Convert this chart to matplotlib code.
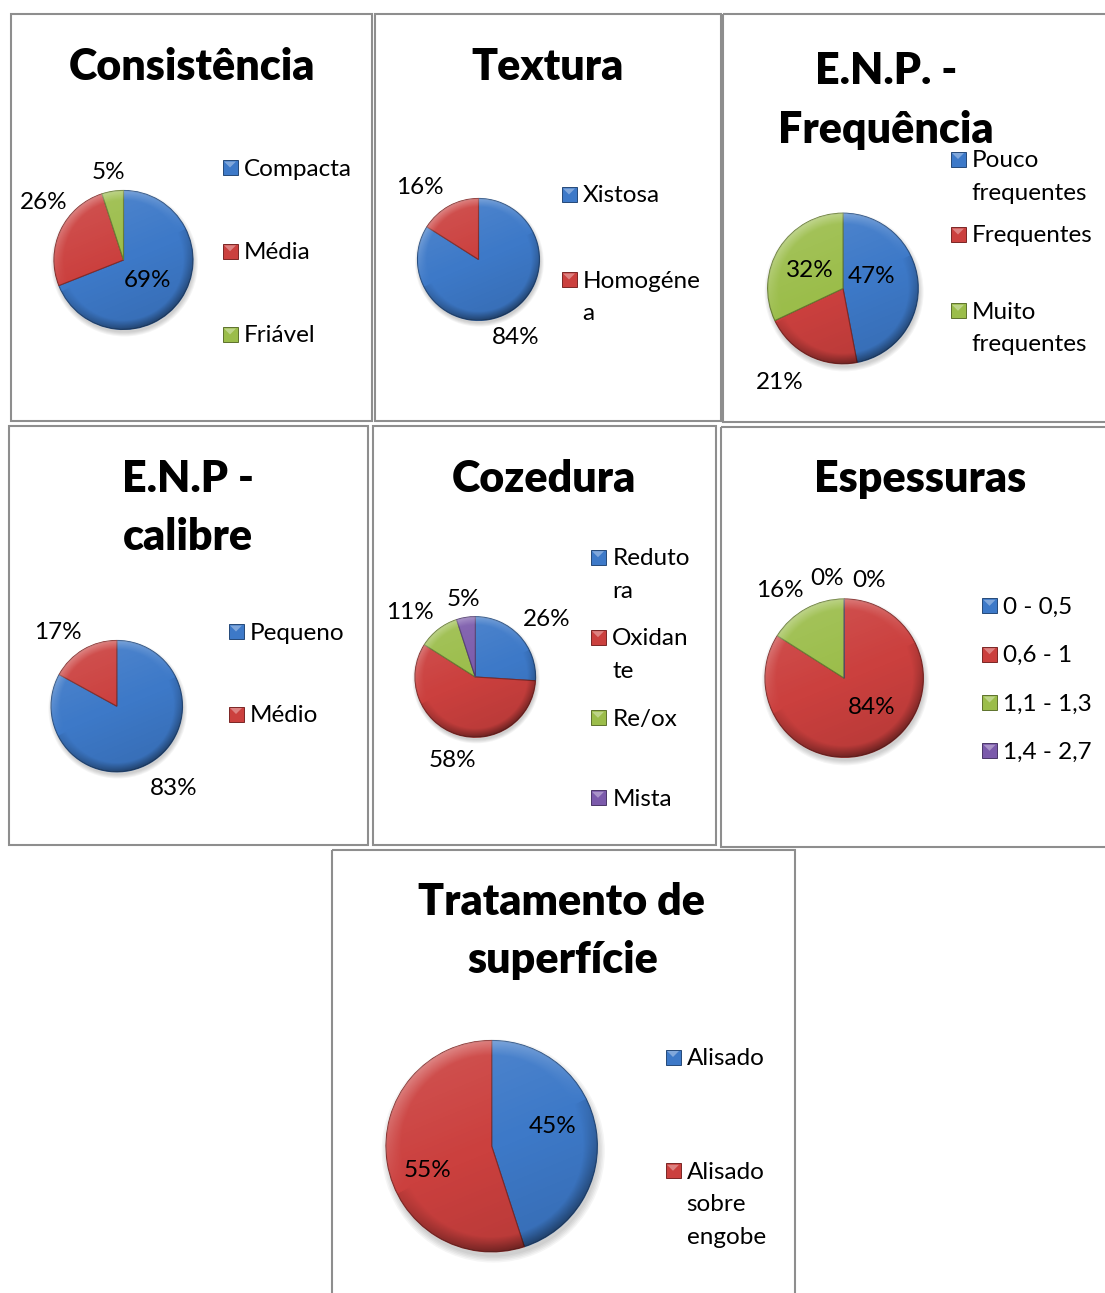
import numpy as np
import matplotlib
matplotlib.use("Agg")
import matplotlib.pyplot as plt
from matplotlib.patches import Rectangle, Circle
from matplotlib.colors import to_rgb

W, H = 1105, 1293

# ---------------- data ----------------
consist_labels = ["Compacta", "Média", "Friável"]
consist_values = [69, 26, 5]

textura_labels = ["Xistosa", "Homogénea"]
textura_values = [84, 16]

freq_labels = ["Pouco frequentes", "Frequentes", "Muito frequentes"]
freq_values = [47, 21, 32]

calibre_labels = ["Pequeno", "Médio"]
calibre_values = [83, 17]

cozedura_labels = ["Redutora", "Oxidante", "Re/ox", "Mista"]
cozedura_values = [26, 58, 11, 5]

espess_labels = ["0 - 0,5", "0,6 - 1", "1,1 - 1,3", "1,4 - 2,7"]
espess_values = [0, 84, 16, 0]

trat_labels = ["Alisado", "Alisado sobre engobe"]
trat_values = [45, 55]

# ---------------- style / layout ----------------
COLORS = ["#3D79C8", "#CB403E", "#9BBD4A", "#7B5AAB"]
FONT = "Lato"
FS = 17.5        # legend / percent labels (pt)
TFS = 31         # titles (pt)
TW = "heavy"
LINE_H = 32.5    # legend line spacing (px)

# how the legend wraps long names (as in the picture)
WRAP = {"Homogénea": "Homogéne\na", "Redutora": "Reduto\nra", "Oxidante": "Oxidan\nte",
        "Pouco frequentes": "Pouco\nfrequentes", "Muito frequentes": "Muito\nfrequentes",
        "Alisado sobre engobe": "Alisado\nsobre\nengobe"}

charts = [
    dict(labels=consist_labels, values=consist_values,
         box=(11, 14, 371.5, 421), titles=[("Consistência", 191.7, 80)],
         pie=(123.5, 260, 69.5), pct=[(0.44, -3.4), (1.43, -11.4), (1.31, 0.5)],
         leg=(222.5, 243.5, [167.5, 251.3, 334.5])),
    dict(labels=textura_labels, values=textura_values,
         box=(374.5, 14, 720.5, 421), titles=[("Textura", 547.5, 80)],
         pie=(478.5, 259.5, 61), pct=[(1.385, -2.8), (1.55, 9.3)],
         leg=(561.5, 582.5, [194.5, 279.5])),
    dict(labels=freq_labels, values=freq_values,
         box=(722.5, 14, 1112, 421.5), titles=[("E.N.P. -", 886.3, 83.5), ("Frequência", 886, 143.5)],
         pie=(843, 288.5, 75.3), pct=[(0.43, 21.2), (1.475, -7.5), (0.51, 1.4)],
         leg=(950.5, 971.7, [159, 234.5, 310.8])),
    dict(labels=calibre_labels, values=calibre_values,
         box=(8.5, 425.5, 367.7, 845), titles=[("E.N.P -", 188.3, 491.7), ("calibre", 187.5, 550)],
         pie=(116.8, 706.2, 65.7), pct=[(1.49, 5.0), (1.46, 7.1)],
         leg=(228.5, 249.3, [631.5, 714])),
    dict(labels=cozedura_labels, values=cozedura_values,
         box=(372.7, 426, 715.5, 845), titles=[("Cozedura", 544.2, 491.7)],
         pie=(475.3, 677, 60.3), pct=[(1.54, -3.1), (1.40, 2.1), (1.55, 6.5), (1.33, -0.2)],
         leg=(590.5, 612.3, [557.2, 637.2, 717.8, 797.8])),
    dict(labels=espess_labels, values=espess_values,
         box=(720.7, 426.7, 1112, 846.7), titles=[("Espessuras", 919.7, 491.7)],
         pie=(844.2, 678.2, 79.2), pct=[(1.30, -14.0), (0.49, 17.2), (1.40, 6.6), (1.30, 9.5)],
         leg=(982, 1002.7, [605.8, 654.2, 702.5, 750.8])),
    dict(labels=trat_labels, values=trat_values,
         box=(331.7, 850, 795, 1300), titles=[("Tratamento de", 562, 915), ("superfície", 562.5, 973.3)],
         pie=(491.7, 1146.2, 105.7), pct=[(0.61, 11.3), (0.64, 10.1)],
         leg=(665.5, 686.7, [1057, 1170.8])),
]


def darker(c, f=0.7):
    r, g, b = to_rgb(c)
    return (r * f, g * f, b * f)


def shading_image(n=240):
    yy, xx = np.mgrid[1:-1:n * 1j, -1:1:n * 1j]
    rr = np.sqrt(xx ** 2 + yy ** 2) + 1e-9
    t = (0.85 * yy - 0.35 * xx)
    d = (-0.45 * xx + 0.89 * yy) / rr
    bevel = np.clip((rr - 0.86) / 0.14, 0, 1)
    L = 0.10 * t + bevel * 0.28 * d - 0.10 * bevel * (d < 0)
    img = np.zeros((n, n, 4))
    img[..., :3] = np.where(L[..., None] > 0, 1.0, 0.0)
    img[..., 3] = np.clip(np.abs(L), 0, 0.5)
    return img


SHADE = shading_image()

fig = plt.figure(figsize=(W / 100, H / 100), dpi=100)
fig.patch.set_facecolor("white")
ov = fig.add_axes([0, 0, 1, 1])
ov.set_xlim(0, W)
ov.set_ylim(H, 0)
ov.axis("off")

cap_px = FS * 100 / 72 * 0.7165

for ch in charts:
    x0, y0, x1, y1 = ch["box"]
    ov.add_patch(Rectangle((x0, y0), x1 - x0, y1 - y0, fill=False,
                           edgecolor="#8e8e8e", lw=1.5, zorder=1))
    for txt, tx, ty in ch["titles"]:
        ov.text(tx, ty, txt, ha="center", va="baseline", fontsize=TFS,
                fontweight=TW, family=FONT, color="black")

    # legend
    mx, tx, ys = ch["leg"]
    n = len(ch["values"])
    for i, (lab, yc) in enumerate(zip(ch["labels"], ys)):
        c = COLORS[i]
        ov.add_patch(Rectangle((mx, yc - 7.5), 15, 15, facecolor=c,
                               edgecolor=darker(c, 0.6), lw=0.7, zorder=2))
        ov.add_patch(plt.Polygon([(mx + 1.5, yc - 6), (mx + 13.5, yc - 6), (mx + 7.5, yc)],
                                 closed=True, facecolor=(1, 1, 1, 0.35), lw=0, zorder=3))
        for k, line in enumerate(WRAP.get(lab, lab).split("\n")):
            ov.text(tx, yc + 8 + k * LINE_H, line, ha="left", va="baseline",
                    fontsize=FS, family=FONT, color="black")

    # pie
    cx, cy, r = ch["pie"]
    pad = 1.12
    ax = fig.add_axes([(cx - pad * r) / W, 1 - (cy + pad * r) / H,
                       2 * pad * r / W, 2 * pad * r / H])
    for k in range(5):
        ax.add_patch(Circle((0.015, -0.045), 1.0 + 0.014 * k, facecolor="black",
                            alpha=0.04, lw=0, zorder=0))
    cols = COLORS[:n]
    wedges, _ = ax.pie(ch["values"], colors=cols, startangle=90, counterclock=False,
                       radius=1, wedgeprops=dict(linewidth=0.8))
    for w, c in zip(wedges, cols):
        w.set_edgecolor(darker(c, 0.65))
        w.set_zorder(2)
    im = ax.imshow(SHADE, extent=(-1, 1, -1, 1), origin="upper", zorder=3,
                   interpolation="bilinear")
    im.set_clip_path(Circle((0, 0), 1, transform=ax.transData))
    ax.set_aspect("auto")
    ax.set_xlim(-pad, pad)
    ax.set_ylim(-pad, pad)
    ax.axis("off")

    total = float(sum(ch["values"]))
    for w, v, (dist, dang) in zip(wedges, ch["values"], ch["pct"]):
        mid = 0.5 * (w.theta1 + w.theta2) + dang
        a = np.deg2rad(mid)
        px, py = dist * np.cos(a), dist * np.sin(a) - (cap_px / 2) / r
        ax.text(px, py, f"{round(100 * v / total):.0f}%", ha="center", va="baseline",
                fontsize=FS, family=FONT, color="black", zorder=5, clip_on=False)

fig.savefig("out.png", dpi=100, facecolor="white")
